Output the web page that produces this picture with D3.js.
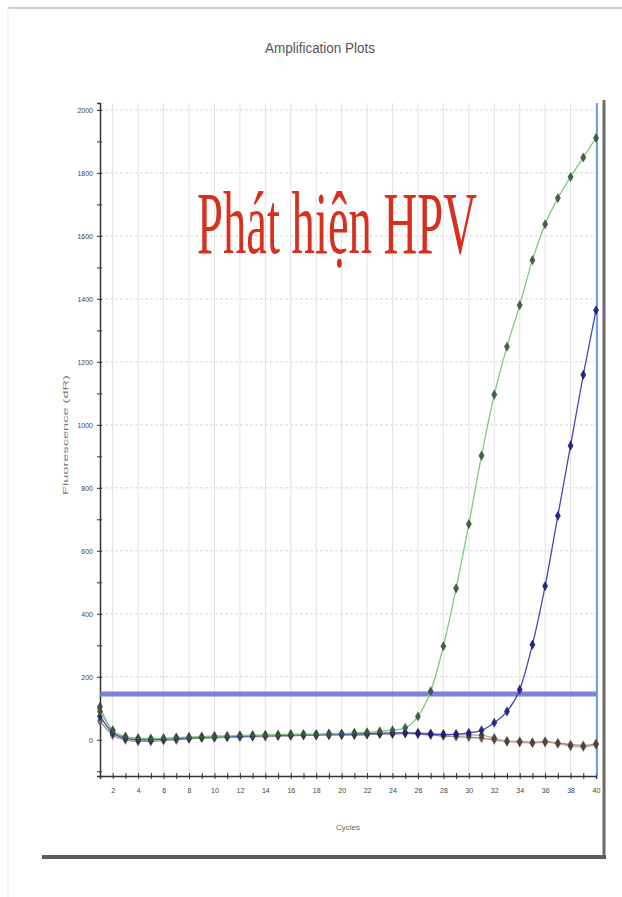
<!DOCTYPE html>
<html>
<head>
<meta charset="utf-8">
<script src="https://cdn.jsdelivr.net/npm/d3@7"></script>
<style>
  body { margin: 0; background: #fff; }
  svg { display: block; }
</style>
</head>
<body>
<svg width="622" height="897"></svg>
<script>
// cycles 1..40
var cycles = d3.range(1, 41);

// fluorescence (dR)
var greenVals = [90, 30, 10, 5, 4, 5, 7, 9, 10, 12, 12, 14, 15, 15, 16, 18, 18, 18, 20, 20,
  22, 24, 27, 30, 38, 74, 154, 297, 481, 685, 902, 1096, 1248, 1380, 1523, 1637, 1720, 1787, 1849, 1911];
var blueVals = [75, 22, 5, 0, 0, 2, 4, 6, 8, 10, 10, 12, 12, 14, 14, 15, 16, 16, 18, 18,
  18, 20, 20, 22, 22, 20, 18, 16, 18, 22, 30, 54, 90, 159, 302, 488, 711, 934, 1159, 1364];
var neg1Vals = [105, 28, 8, 2, 0, 2, 5, 6, 8, 10, 10, 12, 12, 14, 14, 15, 15, 15, 16, 16,
  18, 18, 20, 20, 22, 22, 20, 18, 16, 15, 14, 5, -5, -8, -10, -8, -12, -20, -22, -15];
var neg2Vals = [60, 15, 0, -5, -5, -2, 0, 3, 5, 6, 8, 8, 10, 10, 12, 12, 14, 14, 14, 15,
  15, 16, 18, 18, 20, 18, 15, 12, 10, 8, 5, 0, -5, -5, -8, -5, -10, -15, -18, -12];

var threshold = 145;
var yTicks = [0, 200, 400, 600, 800, 1000, 1200, 1400, 1600, 1800, 2000];
var xTicks = d3.range(2, 41, 2);

var svg = d3.select("svg");

// outer frame
svg.append("line").attr("x1", 8).attr("x2", 622).attr("y1", 8).attr("y2", 8)
  .attr("stroke", "#cfcfcf").attr("stroke-width", 2);
svg.append("line").attr("x1", 8).attr("x2", 8).attr("y1", 8).attr("y2", 897)
  .attr("stroke", "#ececec").attr("stroke-width", 1);

// panel shadow borders
svg.append("line").attr("x1", 604).attr("x2", 604).attr("y1", 100).attr("y2", 858)
  .attr("stroke", "#6b6b6b").attr("stroke-width", 3);
svg.append("line").attr("x1", 42).attr("x2", 606).attr("y1", 857).attr("y2", 857)
  .attr("stroke", "#5e5e5e").attr("stroke-width", 4);

var x = d3.scaleLinear().domain([1, 40]).range([100, 596]);
var y = d3.scaleLinear().domain([-115, 2022]).range([776, 103]);

// grid
svg.append("g").selectAll("line").data(xTicks).enter().append("line")
  .attr("x1", function(d) { return x(d); }).attr("x2", function(d) { return x(d); })
  .attr("y1", y.range()[1]).attr("y2", y.range()[0])
  .attr("stroke", "#e2e2e2").attr("stroke-width", 1);
svg.append("g").selectAll("line").data(yTicks.slice(1)).enter().append("line")
  .attr("x1", x.range()[0]).attr("x2", x.range()[1])
  .attr("y1", function(d) { return y(d); }).attr("y2", function(d) { return y(d); })
  .attr("stroke", "#d8d8d8").attr("stroke-width", 1).attr("stroke-dasharray", "3,2");

// axes
var xAxis = d3.axisBottom(x).tickValues(cycles).tickSize(3)
  .tickFormat(function(d) { return d % 2 === 0 ? d : ""; });
var yAxis = d3.axisLeft(y).tickValues(d3.range(-100, 2001, 100)).tickSize(3)
  .tickFormat(function(d) { return d >= 0 && d % 200 === 0 ? d : ""; });

var gx = svg.append("g").attr("transform", "translate(0,776)").call(xAxis);
gx.select(".domain").attr("stroke", "#333").attr("stroke-width", 1.5);
gx.selectAll(".tick line").attr("stroke", "#333").attr("y1", -3).attr("y2", 3);
gx.selectAll("text").attr("fill", "#444").attr("font-size", 7)
  .attr("font-family", "Liberation Sans, Arial, sans-serif").attr("dy", "1.6em");

var gy = svg.append("g").attr("transform", "translate(100,0)").call(yAxis);
gy.select(".domain").attr("stroke", "#333").attr("stroke-width", 1.5);
gy.selectAll(".tick line").attr("stroke", "#333").attr("x1", -3).attr("x2", 2);
gy.selectAll("text").attr("fill", "#444").attr("font-size", 7)
  .attr("font-family", "Liberation Sans, Arial, sans-serif").attr("x", -7);

// threshold
svg.append("line").attr("x1", x(1)).attr("x2", x(40))
  .attr("y1", y(threshold)).attr("y2", y(threshold))
  .attr("stroke", "#7373dc").attr("stroke-width", 5).attr("opacity", 0.9);

// end of run marker
svg.append("line").attr("x1", x(40) + 1).attr("x2", x(40) + 1)
  .attr("y1", 103).attr("y2", 776)
  .attr("stroke", "#3d86dc").attr("stroke-width", 1.5);

var series = [
  { vals: neg2Vals, line: "#9a9080", dot: "#6b6458" },
  { vals: neg1Vals, line: "#c8a0a0", dot: "#4a3d33" },
  { vals: blueVals, line: "#4848b8", dot: "#1c1c78" },
  { vals: greenVals, line: "#7ccc7c", dot: "#34533a" }
];

var line = d3.line()
  .x(function(d, i) { return x(cycles[i]); })
  .y(function(d) { return y(d); })
  .curve(d3.curveMonotoneX);

series.forEach(function(s) {
  svg.append("path").datum(s.vals)
    .attr("d", line).attr("fill", "none")
    .attr("stroke", s.line).attr("stroke-width", 1.3);
  svg.append("g").selectAll("path").data(s.vals).enter().append("path")
    .attr("d", d3.symbol().type(d3.symbolDiamond).size(30))
    .attr("transform", function(d, i) { return "translate(" + x(cycles[i]) + "," + y(d) + ")"; })
    .attr("fill", s.dot).attr("opacity", 0.9);
});

// title and axis labels
svg.append("text").attr("x", 320).attr("y", 53).attr("text-anchor", "middle")
  .attr("font-family", "Liberation Sans, Arial, sans-serif").attr("font-size", 14)
  .attr("fill", "#555").attr("textLength", 110).attr("lengthAdjust", "spacingAndGlyphs")
  .text("Amplification Plots");

svg.append("text").attr("transform", "translate(68,435) rotate(-90)")
  .attr("text-anchor", "middle")
  .attr("font-family", "Liberation Sans, Arial, sans-serif").attr("font-size", 8)
  .attr("fill", "#777").attr("textLength", 120).attr("lengthAdjust", "spacingAndGlyphs")
  .text("Fluorescence (dR)");

svg.append("text").attr("x", 348).attr("y", 830).attr("text-anchor", "middle")
  .attr("font-family", "Liberation Sans, Arial, sans-serif").attr("font-size", 8)
  .attr("fill", "#666").text("Cycles");

// overlay caption, squeezed horizontally like the picture
var cap = svg.append("text").attr("x", 0).attr("y", 0)
  .attr("font-family", "Liberation Serif, Times New Roman, serif").attr("font-size", 88)
  .attr("fill", "#d6301f")
  .text("Phát hiện HPV");
var capW = cap.node().getComputedTextLength();
cap.attr("transform", "translate(197,253) scale(" + (280 / capW) + ",1)");
</script>
</body>
</html>
